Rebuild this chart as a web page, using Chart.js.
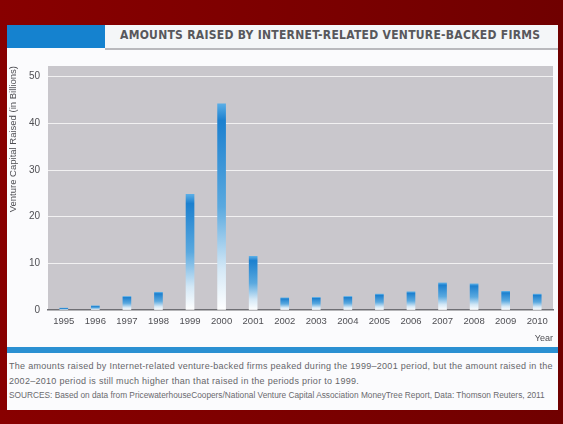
<!DOCTYPE html>
<html>
<head>
<meta charset="utf-8">
<script src="https://cdn.jsdelivr.net/npm/chart.js@4.4.1/dist/chart.umd.min.js"></script>
<style>
    body{margin:0;width:563px;height:424px;overflow:hidden;background:linear-gradient(90deg,#880000,#7a0000 60%,#700000);font-family:"Liberation Sans",Arial,sans-serif;position:relative}
    #panel{position:absolute;left:7px;top:25px;width:551px;height:385px;background:#fbfbfd}
    #blueBlock{position:absolute;left:7px;top:25px;width:98px;height:23px;background:#1582cf}
    #titleBar{position:absolute;left:105px;top:25px;width:453px;height:23px;background:#f4f6f8;border-bottom:2px solid #b9b9bd}
    #title{position:absolute;left:120px;top:28px;font-family:"DejaVu Sans Condensed","DejaVu Sans",sans-serif;font-weight:bold;font-size:12px;color:#58585c;letter-spacing:0.28px;white-space:nowrap}
    #chartBox{position:absolute;left:8px;top:52px;width:548px;height:292px}
    #band{position:absolute;left:7px;top:347px;width:551px;height:6px;background:#2b90d2}
    #note{position:absolute;left:9px;top:359px;width:550px;font-size:9px;line-height:15px;color:#66666a;letter-spacing:0.29px}
    #note span{white-space:nowrap}
    #src{position:absolute;left:9px;top:390px;width:548px;font-size:8.3px;color:#6a6a6e;white-space:nowrap}
</style>
</head>
<body>
<div id="panel"></div>
<div id="blueBlock"></div>
<div id="titleBar"></div>
<div id="title">AMOUNTS RAISED BY INTERNET-RELATED VENTURE-BACKED FIRMS</div>
<div id="chartBox"><canvas id="vcChart"></canvas></div>
<div id="band"></div>
<div id="note">The amounts raised by Internet-related venture-backed firms peaked during the <span>1999–2001</span> period, but the amount raised in the <span>2002–2010</span> period is still much higher than that raised in the periods prior to 1999.</div>
<div id="src">SOURCES: Based on data from PricewaterhouseCoopers/National Venture Capital Association MoneyTree Report, Data: Thomson Reuters, 2011</div>
<script>
// values, billions of dollars
const years = ["1995","1996","1997","1998","1999","2000","2001","2002","2003","2004","2005","2006","2007","2008","2009","2010"];
const raised = [0.4, 0.9, 2.9, 3.8, 24.8, 44.2, 11.5, 2.6, 2.7, 2.9, 3.4, 3.9, 5.8, 5.6, 4.0, 3.4];
const yTicks = [0, 10, 20, 30, 40, 50];

// gray plot background
const plotBg = {
    id: "plotBg",
    beforeDraw(chart){
        const {ctx, chartArea:a} = chart;
        ctx.save();
        ctx.fillStyle = "#c9c7cc";
        ctx.fillRect(a.left, a.top, a.right - a.left, a.bottom - a.top);
        ctx.restore();
    }
};

function barFill(context){
    const chart = context.chart;
    if(!chart.chartArea) return "#2a8ad4";
    const y = chart.scales.y;
    const top = y.getPixelForValue(context.raw);
    const base = y.getPixelForValue(0);
    const g = chart.ctx.createLinearGradient(0, top, 0, base);
    g.addColorStop(0, "#5aaee6");
    g.addColorStop(0.08, "#1c80cf");
    g.addColorStop(0.5, "#5aa9df");
    g.addColorStop(0.8, "#d4e8f6");
    g.addColorStop(1, "#ffffff");
    return g;
}

new Chart("vcChart", {
    type: "bar",
    data: {
        labels: years,
        datasets: [{
            data: raised,
            backgroundColor: barFill,
            barThickness: 8,
            borderWidth: 0
        }]
    },
    options: {
        responsive: true,
        maintainAspectRatio: false,
        animation: false,
        layout: { padding: { top: 5, right: 3, left: 0, bottom: 0 } },
        plugins: {
            legend: { display: false },
            tooltip: { enabled: false }
        },
        scales: {
            x: {
                offset: true,
                grid: { display: false, drawTicks: false },
                border: { color: "#6f6f74", width: 1.5 },
                ticks: { color: "#4f4f54", font: { size: 9.5, family: "Liberation Sans" }, padding: 6, maxRotation: 0, autoSkip: false },
                title: { display: true, text: "Year", align: "end", color: "#4f4f54", font: { size: 9, family: "Liberation Sans" }, padding: { top: 0, bottom: 0 } },
                afterFit(scale){ scale.height = 34; }
            },
            y: {
                min: 0,
                max: 52.3,
                afterBuildTicks(scale){
                    scale.ticks = yTicks.map(v => ({ value: v }));
                },
                grid: { color: "rgba(255,255,255,0.75)", lineWidth: 1, drawTicks: false },
                border: { display: false },
                ticks: { color: "#4f4f54", font: { size: 10, family: "Liberation Sans" }, padding: 8 },
                title: { display: true, text: "Venture Capital Raised (in Billions)", align: "end", color: "#4f4f54", font: { size: 9.5, family: "Liberation Sans" }, padding: { top: 0, bottom: 0 } },
                afterFit(scale){ scale.width = 40; }
            }
        }
    },
    plugins: [plotBg]
});
</script>
</body>
</html>
